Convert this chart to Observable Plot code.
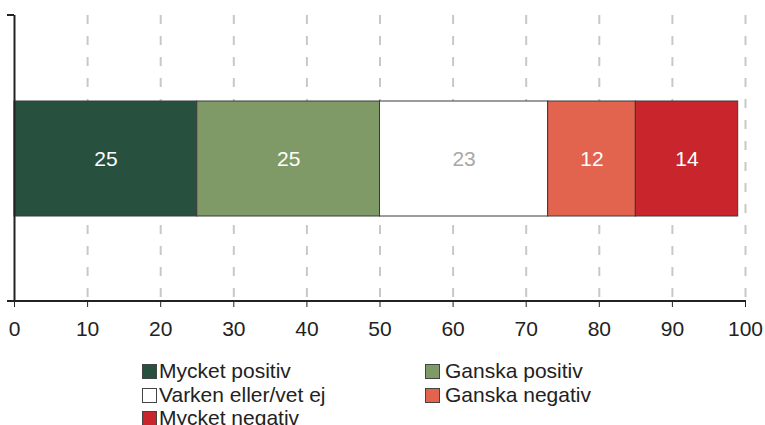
<!DOCTYPE html>
<html><head><meta charset="utf-8">
<script src="https://cdn.jsdelivr.net/npm/d3@7"></script>
<script src="https://cdn.jsdelivr.net/npm/@observablehq/plot@0.6"></script>
<style>
body{margin:0;background:#fff;font-family:Arial,"Liberation Sans",sans-serif;}
#legend{display:grid;grid-template-columns:283px auto;margin-left:142px;font-size:21px;line-height:23.5px;color:#222;}
.item{display:flex;align-items:center;white-space:nowrap}
.sw{width:13px;height:13px;border:1px solid #444;margin-right:2px;display:inline-block;box-sizing:content-box;position:relative;top:1px;}
.item.c2 .sw{margin-right:5px;}
</style></head>
<body><div id="chart"></div><div id="legend"></div>
<script>
const categories = ["Mycket positiv","Ganska positiv","Varken eller/vet ej","Ganska negativ","Mycket negativ"];
const values = [25, 25, 23, 12, 14];
const colors = ["#28503f","#7f9a66","#ffffff","#e2644e","#c8252c"];
const labelColors = ["#ffffff","#ffffff","#a8a8a8","#ffffff","#ffffff"];
const xTicks = [0,10,20,30,40,50,60,70,80,90,100];
const rowName = "Alla";

const ends = d3.cumsum(values);
const data = categories.map((c, i) => ({
  category: c, value: values[i], row: rowName,
  x1: ends[i] - values[i], x2: ends[i], labelColor: labelColors[i]
}));

const W = 765, H = 359;
const MT = 15, MB = 58;
const plot = Plot.plot({
  width: W, height: H,
  marginLeft: 14, marginRight: 20, marginTop: MT, marginBottom: MB,
  style: {fontFamily: "Arial, 'Liberation Sans', sans-serif", fontSize: "21px", color: "#222", background: "#fff"},
  x: {domain: [0, 100], ticks: xTicks, tickSize: 6, tickPadding: 14, label: null, tickFormat: d => String(d)},
  y: {domain: [rowName], axis: null, padding: 0.4265},
  color: {domain: categories, range: colors},
  marks: [
    Plot.ruleX(xTicks.filter(v => v > 0), {stroke: "#c8c8c8", strokeWidth: 2, strokeDasharray: "9,12"}),
    Plot.barX(data, {x1: "x1", x2: "x2", y: "row", fill: "category", stroke: "#3a3a3a", strokeWidth: 1}),
    Plot.text(data.filter(d => d.labelColor === "#ffffff"), {x: d => (d.x1 + d.x2) / 2, y: "row", text: d => String(d.value), fill: "#ffffff", fontSize: 21}),
    Plot.text(data.filter(d => d.labelColor !== "#ffffff"), {x: d => (d.x1 + d.x2) / 2, y: "row", text: d => String(d.value), fill: labelColors[2], fontSize: 21}),
    Plot.ruleX([0], {stroke: "#222", strokeWidth: 2})
  ]
});
document.getElementById("chart").appendChild(plot);

// axis lines and end ticks, derived from the plot's scales
const xs = plot.scale("x");
const px0 = xs.apply(0), px100 = xs.apply(100);
const frameTop = MT, frameBottom = H - MB;
const svg = d3.select(plot);
const g = svg.append("g").attr("stroke", "#222").attr("stroke-width", 2);
g.append("line").attr("x1", px0 - 7).attr("x2", px100 + 1).attr("y1", frameBottom).attr("y2", frameBottom);
g.append("line").attr("x1", px0 - 7).attr("x2", px0).attr("y1", frameTop).attr("y2", frameTop);

// legend
const leg = document.getElementById("legend");
categories.forEach((c, i) => {
  const it = document.createElement("div");
  it.className = "item" + (i % 2 === 1 ? " c2" : "");
  const sw = document.createElement("span");
  sw.className = "sw";
  sw.style.background = colors[i];
  it.appendChild(sw);
  it.appendChild(document.createTextNode(c));
  leg.appendChild(it);
});
</script>
</body></html>
